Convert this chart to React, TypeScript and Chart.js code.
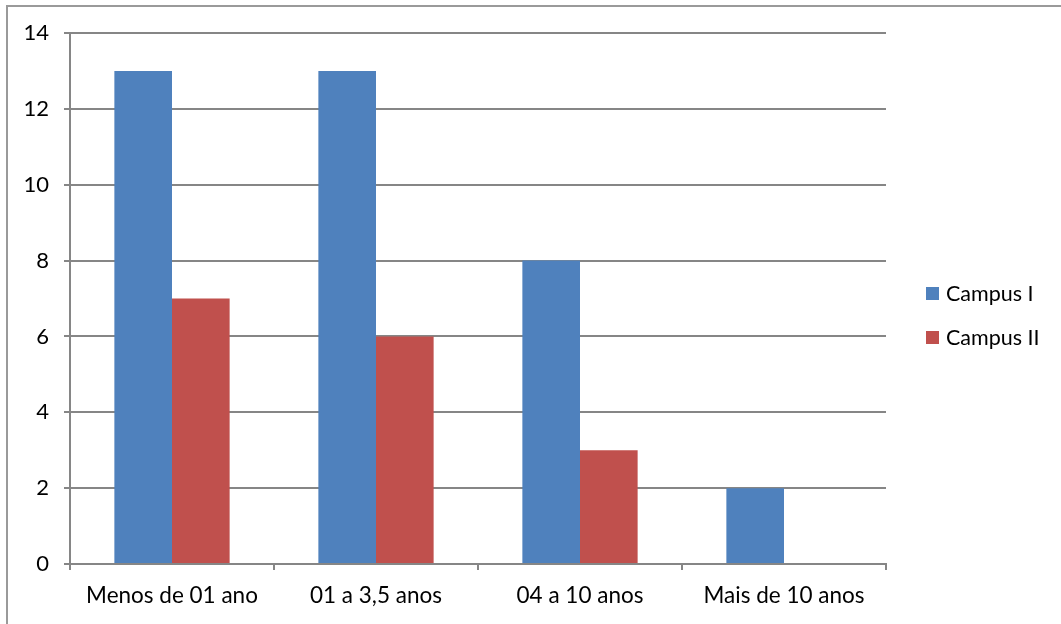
import React, { useEffect, useRef } from "react";
import { Chart, registerables } from "chart.js";

Chart.register(...registerables);

const categories = ["Menos de 01 ano", "01 a 3,5 anos", "04 a 10 anos", "Mais de 10 anos"];
const campusI = [13, 13, 8, 2];
const campusII = [7, 6, 3, 0];
const seriesNames = ["Campus I", "Campus II"];
const seriesColors = ["#4F81BD", "#C0504D"];

const FONT = "Lato, 'Open Sans', sans-serif";

export default function App() {
  const ref = useRef<HTMLCanvasElement>(null);
  useEffect(() => {
    document.body.style.margin = "0";
    const ctx = ref.current!;
    const framePlugin = {
      id: "frame",
      beforeDraw(chart: any) {
        const c = chart.ctx;
        c.save();
        c.fillStyle = "#fff";
        c.fillRect(0, 0, chart.width, chart.height);
        c.strokeStyle = "#9a9a9a";
        c.lineWidth = 2;
        c.beginPath();
        c.moveTo(7, chart.height);
        c.lineTo(7, 6);
        c.lineTo(chart.width, 6);
        c.stroke();
        c.restore();
      },
      afterDraw(chart: any) {
        const c = chart.ctx;
        c.save();
        c.font = `21.5px ${FONT}`;
        c.textBaseline = "middle";
        chart.data.datasets.forEach((ds: any, i: number) => {
          const y = 293 + i * 44;
          c.fillStyle = ds.backgroundColor;
          c.fillRect(926, y - 6, 13, 13);
          c.fillStyle = "#000";
          c.fillText(ds.label, 946, y + 1);
        });
        c.restore();
      },
    };
    const chart = new Chart(ctx, {
      type: "bar",
      data: {
        labels: categories,
        datasets: [
          { label: seriesNames[0], data: campusI, backgroundColor: seriesColors[0], barPercentage: 1, categoryPercentage: 0.565 },
          { label: seriesNames[1], data: campusII, backgroundColor: seriesColors[1], barPercentage: 1, categoryPercentage: 0.565 },
        ],
      },
      options: {
        animation: false,
        responsive: false,
        layout: { padding: { left: 0, top: 33, right: 175, bottom: 0 } },
        plugins: { legend: { display: false }, tooltip: { enabled: false } },
        scales: {
          x: {
            afterFit: (s: any) => { s.height = 60; },
            grid: { display: true, drawOnChartArea: false, color: "#868686", lineWidth: 2, tickLength: 6 },
            border: { color: "#868686", width: 2 },
            ticks: { color: "#000", font: { size: 22.5, family: FONT }, padding: 12 },
          },
          y: {
            min: 0,
            max: 14,
            afterFit: (s: any) => { s.width = 70; },
            grid: { color: "#868686", lineWidth: 2, tickLength: 6 },
            border: { color: "#868686", width: 2 },
            ticks: { stepSize: 2, color: "#000", font: { size: 22, family: FONT }, padding: 15 },
          },
        },
      },
      plugins: [framePlugin],
    });
    return () => chart.destroy();
  }, []);
  return <canvas ref={ref} width={1061} height={624} style={{ display: "block" }} />;
}
